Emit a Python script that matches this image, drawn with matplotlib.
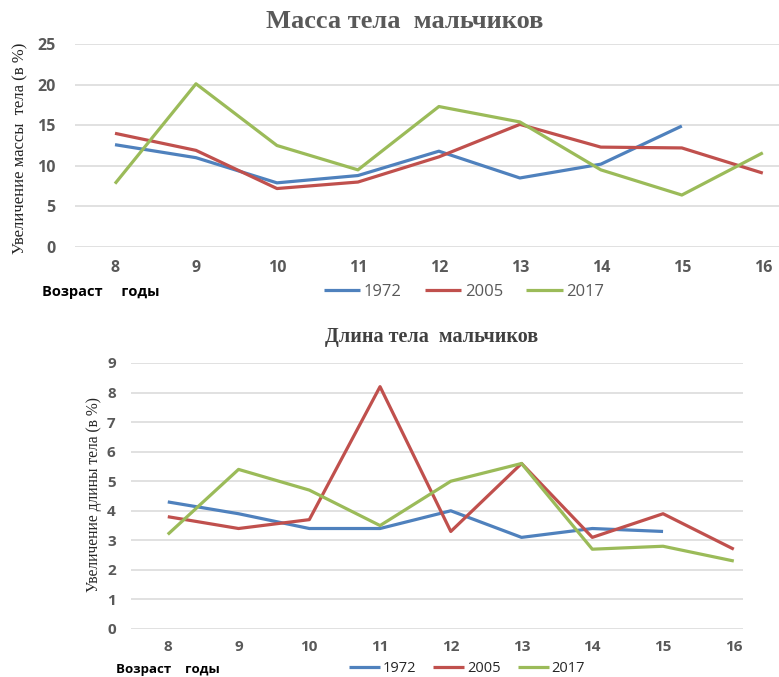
import matplotlib
matplotlib.use("Agg")
import matplotlib.pyplot as plt

ages = [8, 9, 10, 11, 12, 13, 14, 15, 16]
years = ["1972", "2005", "2017"]
colors = ["#4F81BD", "#C0504D", "#9BBB59"]

# прирост массы тела, %
mass_1972 = [12.6, 11.0, 7.9, 8.8, 11.8, 8.5, 10.2, 14.9]
mass_2005 = [14.0, 11.9, 7.2, 8.0, 11.1, 15.1, 12.3, 12.2, 9.1]
mass_2017 = [7.8, 20.1, 12.5, 9.5, 17.3, 15.4, 9.5, 6.4, 11.6]

# прирост длины тела, %
length_1972 = [4.3, 3.9, 3.4, 3.4, 4.0, 3.1, 3.4, 3.3]
length_2005 = [3.8, 3.4, 3.7, 8.2, 3.3, 5.6, 3.1, 3.9, 2.7]
length_2017 = [3.2, 5.4, 4.7, 3.5, 5.0, 5.6, 2.7, 2.8, 2.3]

W, H = 779, 677
fig = plt.figure(figsize=(W / 100, H / 100), dpi=100)


def box(x0, y0, x1, y1):
    return [x0 / W, 1 - y1 / H, (x1 - x0) / W, (y1 - y0) / H]


def style(ax, ymax, ystep, xlim, tick_size, ypad, xpad):
    ax.set_xlim(*xlim)
    ax.set_ylim(0, ymax)
    ax.set_yticks(range(0, ymax + 1, ystep))
    ax.set_xticks(ages)
    for s in ax.spines.values():
        s.set_visible(False)
    ax.grid(axis="y", color="#D9D9D9", linewidth=1.1)
    ax.set_axisbelow(True)
    ax.tick_params(axis="both", length=0, labelcolor="#595959", labelsize=tick_size)
    ax.tick_params(axis="y", pad=ypad)
    ax.tick_params(axis="x", pad=xpad)
    for lab in ax.get_xticklabels() + ax.get_yticklabels():
        lab.set_fontfamily("Open Sans")
        lab.set_fontweight("bold")


# верхний график: масса
ax1 = fig.add_axes(box(75, 44, 779, 247))
for vals, c, y in zip([mass_1972, mass_2005, mass_2017], colors, years):
    ax1.plot(ages[:len(vals)], vals, color=c, lw=2.3, label=y, solid_capstyle="butt")
style(ax1, 25, 5, (7.506, 16.2), 11.5, 14, 9)
fig.text(405 / W, 1 - 22 / H, "Масса тела  мальчиков", ha="center", va="center",
         family="Liberation Serif", weight="bold", fontsize=19, color="#595959")
fig.text(20 / W, 1 - 148 / H, "Увеличение массы  тела (в %)", rotation=90,
         ha="center", va="center", family="Liberation Serif", fontsize=12, color="#262626")
fig.text(42 / W, 1 - 292 / H, "Возраст     годы", ha="left", va="center",
         family="Open Sans", weight="bold", fontsize=10.5, color="black")
leg = fig.legend(*ax1.get_legend_handles_labels(), loc="center", ncol=3,
                 bbox_to_anchor=(464 / W, 1 - 292 / H), frameon=False,
                 prop={"family": "Open Sans", "size": 12}, handlelength=2.2,
                 handletextpad=0.2, columnspacing=1.4, borderpad=0)
for t in leg.get_texts():
    t.set_color("#595959")

# нижний график: длина
ax2 = fig.add_axes(box(131, 363, 743, 629))
for vals, c, y in zip([length_1972, length_2005, length_2017], colors, years):
    ax2.plot(ages[:len(vals)], vals, color=c, lw=2.3, label=y, solid_capstyle="butt")
style(ax2, 9, 1, (7.48, 16.13), 11, 11, 8)
fig.text(432 / W, 1 - 337 / H, "Длина тела  мальчиков", ha="center", va="center",
         family="Liberation Serif", weight="bold", fontsize=14.5, color="#404040")
fig.text(94 / W, 1 - 495 / H, "Увеличение длины тела (в %)", rotation=90,
         ha="center", va="center", family="Liberation Serif", fontsize=11.2, color="#262626")
fig.text(116 / W, 1 - 669 / H, "Возраст    годы", ha="left", va="center",
         family="Open Sans", weight="bold", fontsize=9.5, color="black")
leg2 = fig.legend(*ax2.get_legend_handles_labels(), loc="center", ncol=3,
                  bbox_to_anchor=(467 / W, 1 - 669 / H), frameon=False,
                  prop={"family": "Open Sans", "size": 10.5}, handlelength=2.1,
                  handletextpad=0.2, columnspacing=1.2, borderpad=0)
for t in leg2.get_texts():
    t.set_color("#262626")

fig.savefig("out.png", dpi=100, facecolor="white")
